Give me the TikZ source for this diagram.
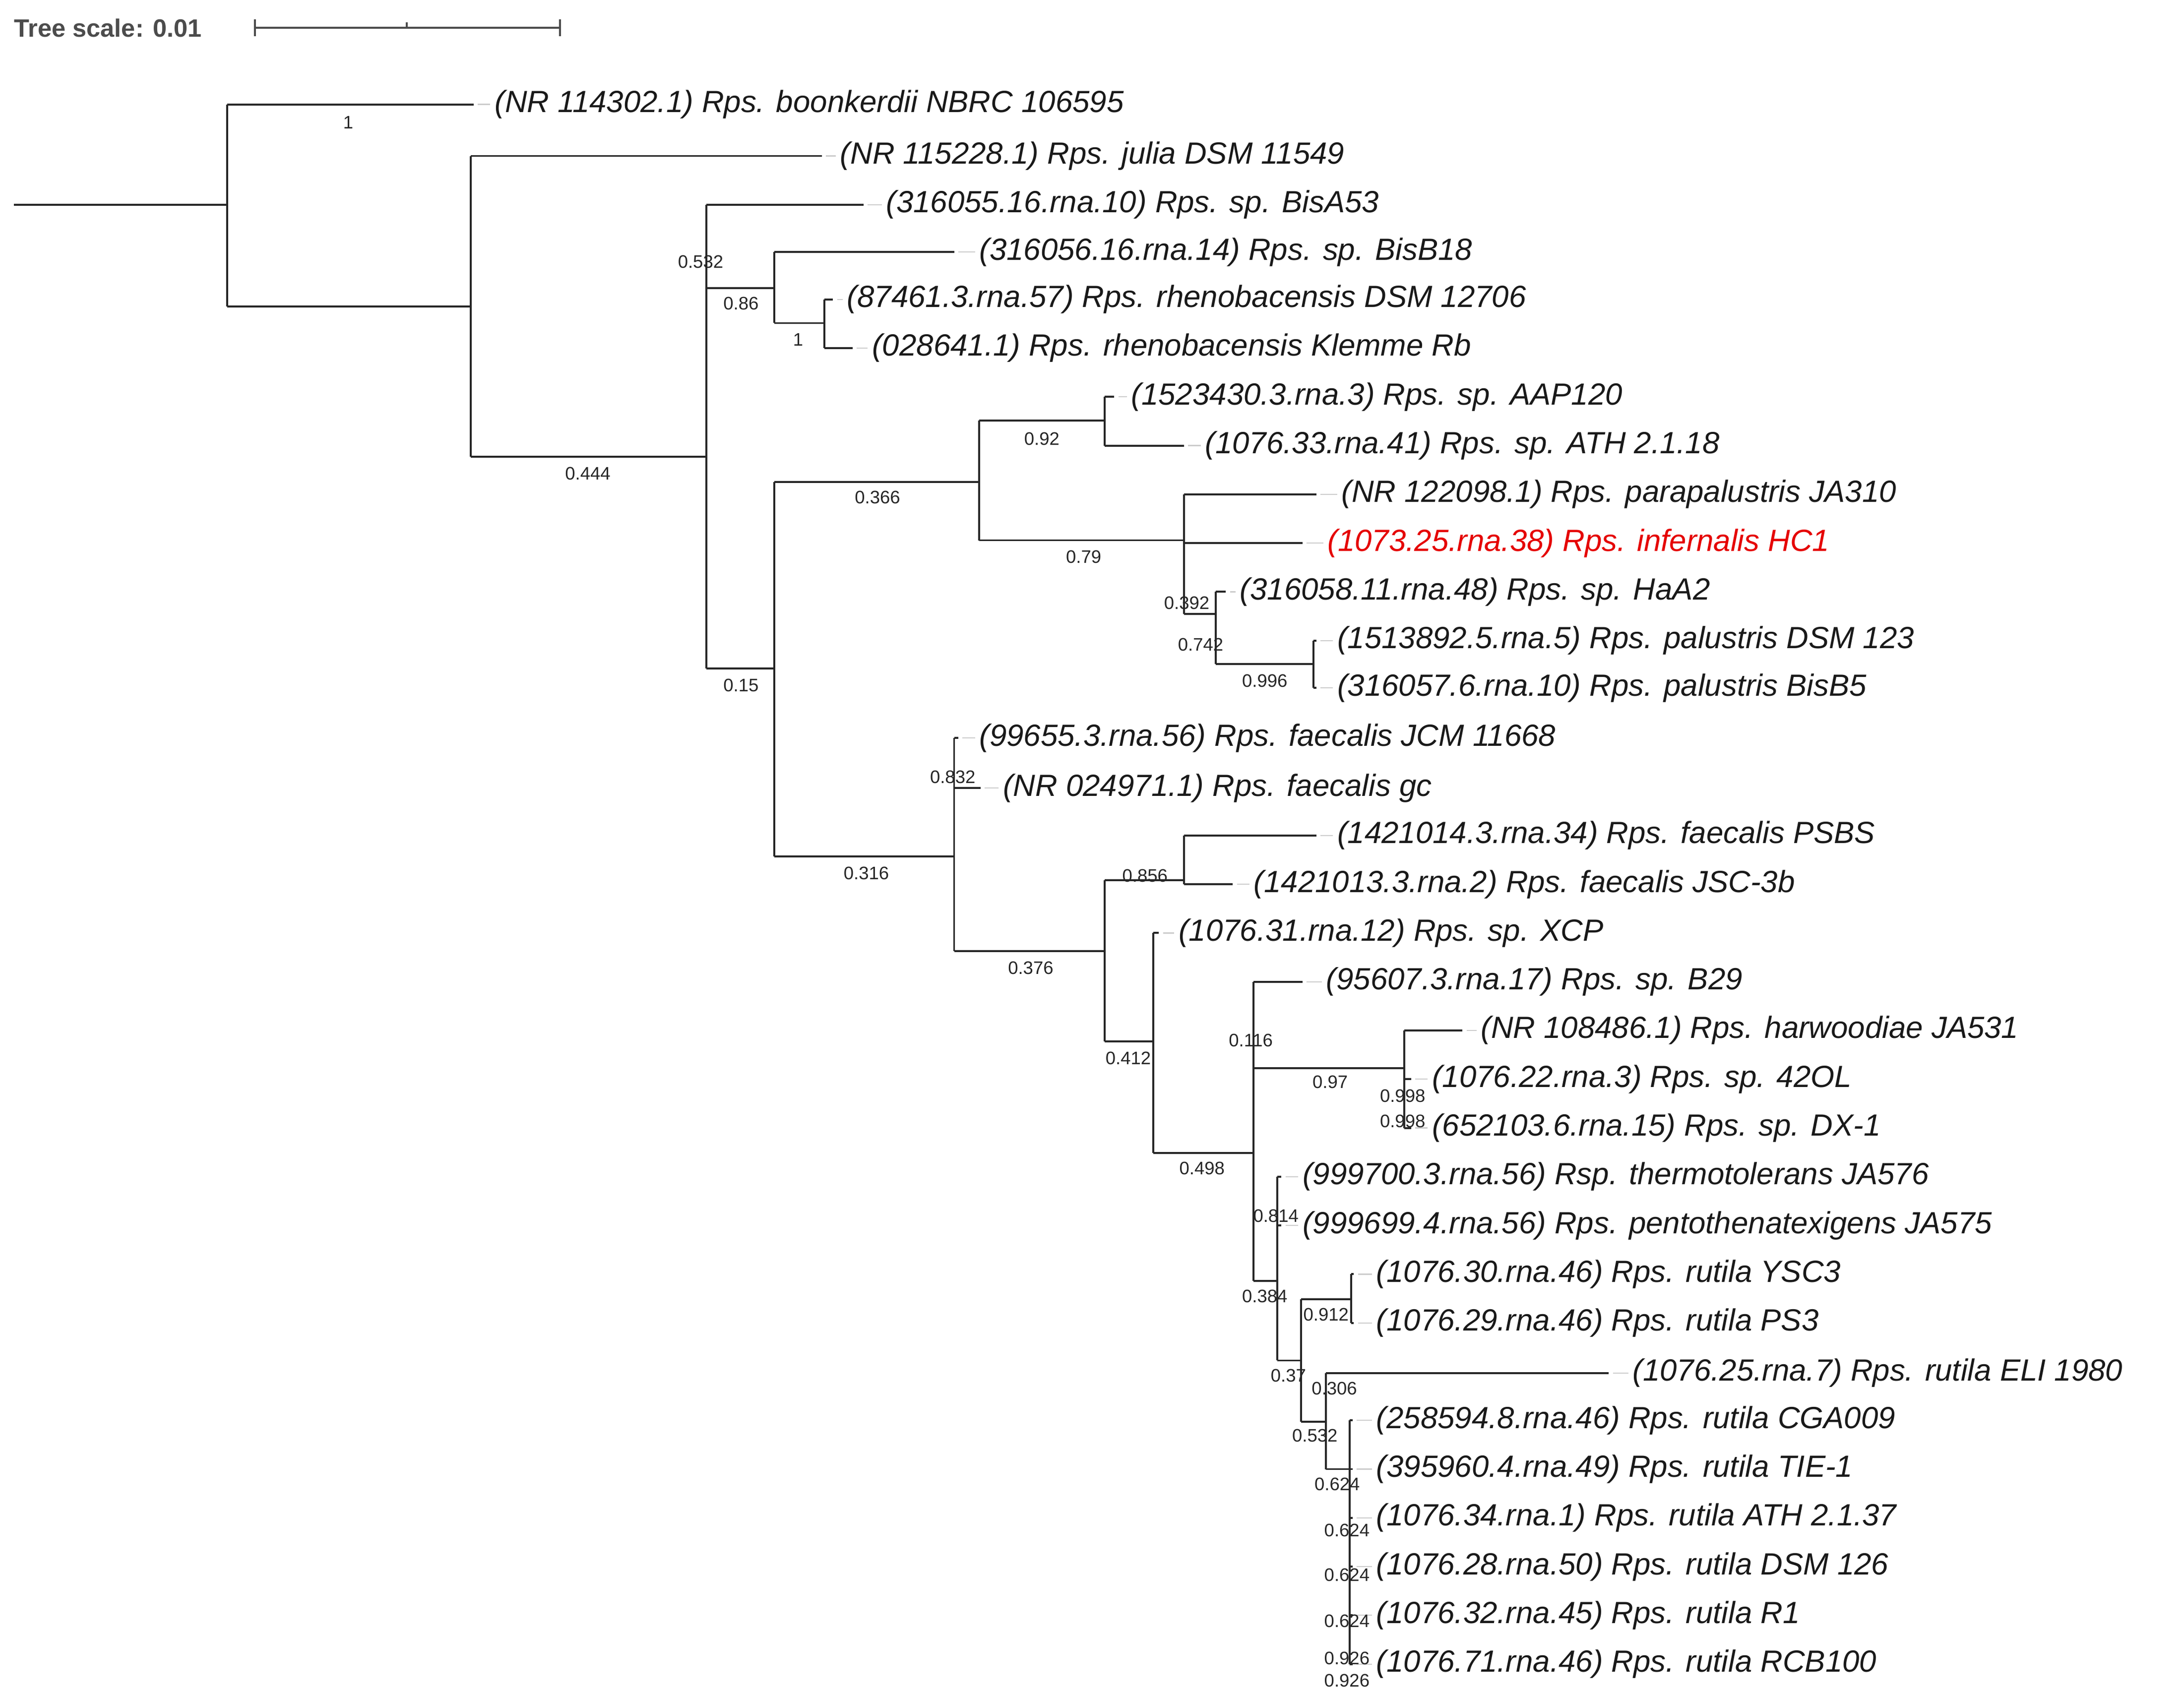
\documentclass[tikz,border=0pt]{standalone}
\usepackage{fontspec}
\setmainfont{Liberation Sans}
\begin{document}
\begin{tikzpicture}[x=1pt,y=-1pt,
  br/.style={line width=1.4pt,black!85},
  leaf/.style={anchor=west,inner sep=0pt,font=\fontsize{22}{24}\selectfont\itshape,text=black!90},
  bs/.style={inner sep=0pt,font=\fontsize{13}{14}\selectfont,text=black!85},
  dashl/.style={gray!40,line width=0.8pt}]
\useasboundingbox (0,0) rectangle (1568,1215);
% scale bar
\node[anchor=west,inner sep=0pt,font=\fontsize{18}{20}\selectfont\bfseries,text=black!70] (ts) at (10,20) {Tree scale: 0.01};
\coordinate (sb1) at (183,20); \coordinate (sb2) at (402,20); \coordinate (sbm) at (292,20);
\draw[line width=1.3pt,black!70] (sb1) -- (sb2);
\draw[line width=1.2pt,black!70] ([yshift=-6]sb1) -- ([yshift=6]sb1) ([yshift=-6]sb2) -- ([yshift=6]sb2) (sbm) -- ([yshift=4]sbm);
% internal nodes
\coordinate (r0) at (10,147);
\coordinate (A) at (163,147);
\coordinate (B) at (338,220);
\coordinate (C) at (507,328);
\coordinate (D) at (556,207);
\coordinate (F) at (592,232);
\coordinate (G) at (556,480);
\coordinate (H) at (703,346);
\coordinate (I) at (793,302);
\coordinate (J) at (850,388);
\coordinate (K) at (873,441);
\coordinate (Ln) at (943,477);
\coordinate (M) at (685,615);
\coordinate (N) at (793,683);
\coordinate (O) at (850,632);
\coordinate (P) at (828,748);
\coordinate (Q) at (900,828);
\coordinate (R) at (1008,767);
\coordinate (T) at (917,920);
\coordinate (U) at (934,977);
\coordinate (V) at (970,933);
\coordinate (W) at (952,1021);
\coordinate (X) at (969,1055);
% leaf tips
\coordinate (t1) at (340,75);
\coordinate (t2) at (590,112);
\coordinate (t3) at (620,147);
\coordinate (t4) at (685,181);
\coordinate (t5) at (598,215);
\coordinate (t6) at (612,250);
\coordinate (t7) at (800,285);
\coordinate (t8) at (850,320);
\coordinate (t9) at (945,355);
\coordinate (t10) at (935,390);
\coordinate (t11) at (880,425);
\coordinate (t12) at (945,460);
\coordinate (t13) at (945,494);
\coordinate (t14) at (688,530);
\coordinate (t15) at (704,566);
\coordinate (t16) at (945,600);
\coordinate (t17) at (885,635);
\coordinate (t18) at (832,670);
\coordinate (t19) at (935,705);
\coordinate (t20) at (1050,740);
\coordinate (t21) at (1013,775);
\coordinate (t22) at (1013,810);
\coordinate (t23) at (920,845);
\coordinate (t24) at (920,880);
\coordinate (t25) at (972,915);
\coordinate (t26) at (972,950);
\coordinate (t27) at (1155,986);
\coordinate (t28) at (971,1020);
\coordinate (t29) at (971,1055);
\coordinate (t30) at (971,1090);
\coordinate (t31) at (971,1125);
\coordinate (t32) at (971,1160);
\coordinate (t33) at (971,1195);
% edges: horizontal from parent x to child at child y
\draw[br] (r0) -- (A);
\foreach \p/\c in {A/t1,A/B,B/t2,B/C,C/t3,C/D,C/G,D/t4,D/F,F/t5,F/t6,G/H,G/M,H/I,H/J,I/t7,I/t8,J/t9,J/t10,J/K,K/t11,K/Ln,Ln/t12,Ln/t13,M/t14,M/t15,M/N,N/O,N/P,O/t16,O/t17,P/t18,P/Q,Q/t19,Q/R,Q/T,R/t20,R/t21,R/t22,T/t23,T/t24,T/U,U/V,U/W,V/t25,V/t26,W/t27,W/X,X/t28,X/t29,X/t30,X/t31,X/t32,X/t33}
  \draw[br] (\p |- \c) -- (\c);
% verticals
\foreach \p/\a/\b in {A/t1/B,B/t2/C,C/t3/G,D/t4/F,F/t5/t6,G/H/M,H/I/J,I/t7/t8,J/t9/K,K/t11/Ln,Ln/t12/t13,M/t14/N,N/O/P,O/t16/t17,P/t18/Q,Q/t19/T,R/t20/t22,T/t23/U,U/V/W,V/t25/t26,W/t27/X,X/t28/t33}
  \draw[br] (\p |- \a) -- (\p |- \b);
% leaves
\foreach \t/\xx/\lab in {
 t1/355/{(NR 114302.1) Rps. boonkerdii NBRC 106595},
 t2/603/{(NR 115228.1) Rps. julia DSM 11549},
 t3/636/{(316055.16.rna.10) Rps. sp. BisA53},
 t4/703/{(316056.16.rna.14) Rps. sp. BisB18},
 t5/608/{(87461.3.rna.57) Rps. rhenobacensis DSM 12706},
 t6/626/{(028641.1) Rps. rhenobacensis Klemme Rb},
 t7/812/{(1523430.3.rna.3) Rps. sp. AAP120},
 t8/865/{(1076.33.rna.41) Rps. sp. ATH 2.1.18},
 t9/963/{(NR 122098.1) Rps. parapalustris JA310},
 t11/890/{(316058.11.rna.48) Rps. sp. HaA2},
 t12/960/{(1513892.5.rna.5) Rps. palustris DSM 123},
 t13/960/{(316057.6.rna.10) Rps. palustris BisB5},
 t14/703/{(99655.3.rna.56) Rps. faecalis JCM 11668},
 t15/720/{(NR 024971.1) Rps. faecalis gc},
 t16/960/{(1421014.3.rna.34) Rps. faecalis PSBS},
 t17/900/{(1421013.3.rna.2) Rps. faecalis JSC-3b},
 t18/846/{(1076.31.rna.12) Rps. sp. XCP},
 t19/952/{(95607.3.rna.17) Rps. sp. B29},
 t20/1063/{(NR 108486.1) Rps. harwoodiae JA531},
 t21/1028/{(1076.22.rna.3) Rps. sp. 42OL},
 t22/1028/{(652103.6.rna.15) Rps. sp. DX-1},
 t23/935/{(999700.3.rna.56) Rsp. thermotolerans JA576},
 t24/935/{(999699.4.rna.56) Rps. pentothenatexigens JA575},
 t25/988/{(1076.30.rna.46) Rps. rutila YSC3},
 t26/988/{(1076.29.rna.46) Rps. rutila PS3},
 t27/1172/{(1076.25.rna.7) Rps. rutila ELI 1980},
 t28/988/{(258594.8.rna.46) Rps. rutila CGA009},
 t29/988/{(395960.4.rna.49) Rps. rutila TIE-1},
 t30/988/{(1076.34.rna.1) Rps. rutila ATH 2.1.37},
 t31/988/{(1076.28.rna.50) Rps. rutila DSM 126},
 t32/988/{(1076.32.rna.45) Rps. rutila R1},
 t33/988/{(1076.71.rna.46) Rps. rutila RCB100}}{
  \node[leaf] (n\t) at (\xx,0 |- \t) {\lab};
  \draw[dashl] ([xshift=3]\t) -- ([xshift=-3]n\t.west |- \t);
}
\node[leaf,text=red!90!black] (nt10) at (953,0 |- t10) {(1073.25.rna.38) Rps. infernalis HC1};
\draw[dashl] ([xshift=3]t10) -- ([xshift=-3]nt10.west |- t10);
% bootstrap labels
\foreach \v/\xx/\yy [count=\i] in {1/250/88,0.444/422/340,0.532/503/188,0.86/532/218,1/573/244,0.15/532/492,0.366/630/357,0.92/748/315,0.79/778/400,0.392/852/433,0.742/862/463,0.996/908/489,0.832/684/558,0.316/622/627,0.856/822/629,0.376/740/695,0.412/810/760,0.116/898/747,0.97/955/777,0.998/1007/787,0.998/1007/805,0.498/863/839,0.814/916/873,0.384/908/931,0.912/952/944,0.37/925/988,0.306/958/997,0.532/944/1031,0.624/960/1066,0.624/967/1099,0.624/967/1131,0.624/967/1164,0.926/967/1191,0.926/967/1207}
  \node[bs] (bs\i) at (\xx,\yy) {\v};
\end{tikzpicture}
\end{document}
